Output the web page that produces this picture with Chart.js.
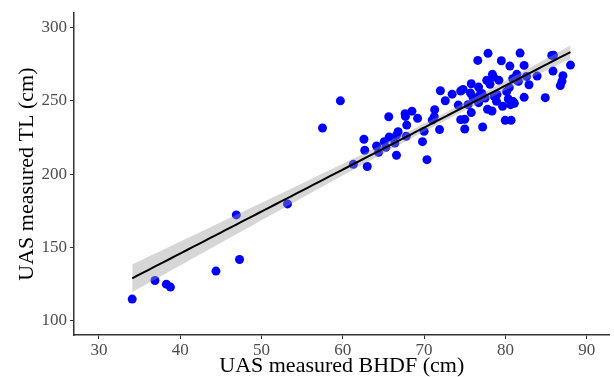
<!DOCTYPE html>
<html>
<head>
<meta charset="utf-8">
<script src="https://cdn.jsdelivr.net/npm/chart.js@4.4.1/dist/chart.umd.min.js"></script>
<style>
  body { margin: 0; background: #fff; }
  #wrap { width: 614px; height: 377px; }
</style>
</head>
<body>
<div id="wrap"><canvas id="grafico" width="614" height="377"></canvas></div>
<script>
const bhdf = [
  34.1, 36.9, 38.3, 38.8, 44.4, 46.9, 47.3, 53.2, 57.5, 59.7,
  61.3, 62.6, 62.7, 63.0, 64.15, 64.4, 65.1, 65.3, 65.65, 65.7,
  66.4, 66.6, 66.6, 66.8, 67.66, 67.7, 67.86, 67.8, 68.5, 69.2,
  69.8, 70.0, 70.35, 71.0, 71.25, 71.3, 71.9, 72.0, 72.6, 73.45,
  74.2, 74.5, 74.5, 74.8, 75.0, 75.0, 75.4, 75.7, 75.8, 75.8,
  76.0, 76.1, 76.6, 76.7, 76.7, 76.9, 77.1, 77.2, 77.5, 77.7,
  77.8, 77.86, 78.1, 78.35, 78.4, 78.55, 78.6, 78.9, 78.96, 79.2,
  79.5, 79.65, 79.98, 80.15, 80.35, 80.47, 80.55, 80.64, 80.7, 80.9,
  80.95, 81.1, 81.4, 81.5, 81.6, 81.8, 82.3, 82.3, 82.6, 82.9,
  83.9, 84.9, 85.7, 85.9, 85.85, 86.75, 86.95, 87.07, 88.0
];
const tl = [
  114.8, 127.5, 125.0, 123.0, 133.9, 172.2, 141.8, 179.7, 231.5, 250.0,
  206.7, 223.8, 216.3, 205.2, 219.2, 214.9, 222.2, 218.3, 239.2, 225.3,
  221.3, 212.9, 226.5, 229.0, 241.3, 239.4, 233.5, 225.8, 243.0, 238.1,
  222.2, 229.2, 209.9, 236.9, 239.2, 244.0, 230.4, 256.9, 250.1, 254.6,
  247.1, 237.2, 256.7, 257.8, 230.8, 237.4, 247.4, 255.3, 261.7, 242.0,
  252.6, 251.5, 277.6, 259.4, 248.8, 254.4, 255.0, 232.2, 251.9, 264.0,
  244.2, 282.4, 261.3, 243.1, 268.1, 266.2, 253.3, 249.7, 254.4, 264.0,
  277.4, 246.3, 236.7, 256.3, 251.3, 259.0, 273.7, 247.4, 236.7, 265.1,
  249.5, 248.3, 268.1, 263.8, 263.3, 282.6, 274.2, 252.4, 266.7, 261.0,
  266.9, 252.2, 281.0, 281.2, 270.3, 260.4, 263.3, 267.2, 274.4
];
const ticksX = [30, 40, 50, 60, 70, 80, 90];
const ticksY = [100, 150, 200, 250, 300];

// regressão linear + intervalo de confiança de 95%
const ajustar = (xs, ys) => {
    const n = xs.length;
    const mx = xs.reduce((a, b) => a + b, 0) / n;
    const my = ys.reduce((a, b) => a + b, 0) / n;
    let sxx = 0, sxy = 0;
    xs.forEach((x, i) => { sxx += (x - mx) ** 2; sxy += (x - mx) * (ys[i] - my); });
    const b = sxy / sxx;
    const a = my - b * mx;
    let sse = 0;
    xs.forEach((x, i) => { sse += (ys[i] - (a + b * x)) ** 2; });
    const s = Math.sqrt(sse / (n - 2));
    return { a, b, s, n, mx, sxx };
};
const fit = ajustar(bhdf, tl);
const t975 = 1.985;
const xMin = Math.min(...bhdf), xMax = Math.max(...bhdf);
const linha = [], faixaSup = [], faixaInf = [];
for (let i = 0; i <= 80; i++) {
    const x = xMin + (xMax - xMin) * i / 80;
    const y = fit.a + fit.b * x;
    const se = fit.s * Math.sqrt(1 / fit.n + (x - fit.mx) ** 2 / fit.sxx);
    linha.push({ x, y });
    faixaSup.push({ x, y: y + t975 * se });
    faixaInf.push({ x, y: y - t975 * se });
}

const fonte = 'Liberation Serif, Times New Roman, serif';

new Chart(document.getElementById('grafico'), {
    type: 'scatter',
    data: {
        datasets: [
            { type: 'line', data: linha, borderColor: '#000', borderWidth: 2, pointRadius: 0, fill: false, order: 0 },
            { type: 'line', data: faixaSup, borderWidth: 0, borderColor: 'rgba(0,0,0,0)', pointRadius: 0,
              fill: '+1', backgroundColor: 'rgba(153,153,153,0.4)', order: 1 },
            { type: 'line', data: faixaInf, borderWidth: 0, borderColor: 'rgba(0,0,0,0)', pointRadius: 0, fill: false, order: 1 },
            { data: bhdf.map((x, i) => ({ x, y: tl[i] })), backgroundColor: '#0000ff', borderWidth: 0,
              pointRadius: 4.5, order: 2 }
        ]
    },
    options: {
        responsive: false,
        animation: false,
        layout: { padding: { top: 12, right: 2, left: 0, bottom: 0 } },
        plugins: { legend: { display: false }, tooltip: { enabled: false } },
        scales: {
            x: {
                type: 'linear', min: 26.94, max: 92.8,
                afterFit: (s) => { s.height = 42; },
                afterBuildTicks: (s) => { s.ticks = ticksX.map(v => ({ value: v })); },
                grid: { drawOnChartArea: false, drawTicks: true, tickLength: 4, color: '#333' },
                border: { color: '#333', width: 1.5 },
                ticks: { color: '#4d4d4d', font: { family: fonte, size: 17 }, padding: 1 },
                title: { display: true, text: 'UAS measured BHDF (cm)', color: '#000',
                         font: { family: fonte, size: 22, lineHeight: 1 }, padding: { top: 0, bottom: 0 } }
            },
            y: {
                type: 'linear', min: 90.3, max: 309.8,
                afterFit: (s) => { s.width = 74; },
                afterBuildTicks: (s) => { s.ticks = ticksY.map(v => ({ value: v })); },
                grid: { drawOnChartArea: false, drawTicks: true, tickLength: 4, color: '#333' },
                border: { color: '#333', width: 1.5 },
                ticks: { color: '#4d4d4d', font: { family: fonte, size: 17 }, padding: 3 },
                title: { display: true, text: 'UAS measured TL (cm)', color: '#000',
                         font: { family: fonte, size: 22, lineHeight: 1 }, padding: { top: 16, bottom: 0 } }
            }
        }
    }
});
</script>
</body>
</html>
